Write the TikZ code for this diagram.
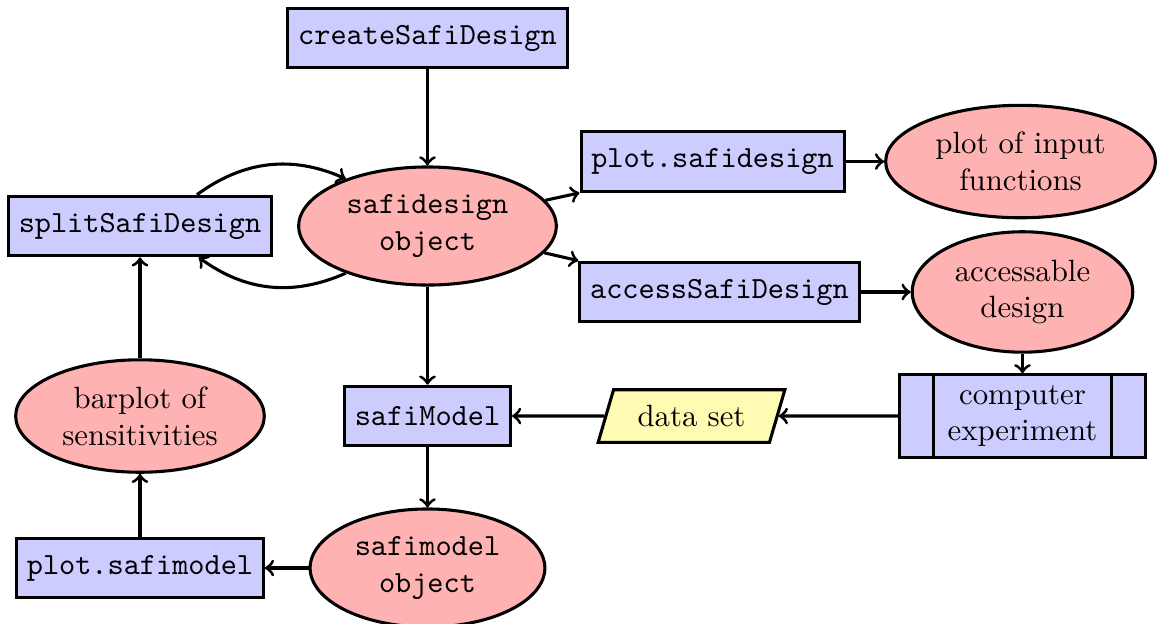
\documentclass[tikz,border=0pt]{standalone}
\usetikzlibrary{shapes.geometric}

\tikzstyle{block} = [rectangle, draw, line width=1pt, fill=blue!20, text centered, minimum height=0.68cm, font=\ttfamily]
\tikzstyle{object} = [ellipse, draw, line width=1pt, fill=red!30, align=center]
\tikzstyle{io} = [trapezium, trapezium left angle=70, trapezium right angle=110, trapezium stretches=true, draw, line width=1pt, fill=yellow!30, minimum height=0.6cm, inner xsep=7.8pt]
\tikzstyle{arrow} = [draw, line width=1pt, ->]

\begin{document}
\begin{tikzpicture}[node distance=2.169cm, auto]
    \useasboundingbox (-4.88,-4.532) rectangle (8.339,2.58);

    \node[object, font=\ttfamily] (design) {safidesign\\object};
    \node[block, above of=design, node distance=2.146cm] (create) {createSafiDesign};
    \node[block, left of=design, node distance=3.282cm] (split) {splitSafiDesign};
    \node[block, above of=design, xshift=3.254cm, node distance=0.736cm] (plotdesign) {plot.safidesign};
    \node[object, right of=plotdesign, node distance=3.516cm] (plotinput) {plot of input\\functions};
    \node[block, below of=design, xshift=3.333cm, node distance=0.753cm] (access) {accessSafiDesign};
    \node[object, right of=access, node distance=3.459cm] (accessible) {accessable\\design};
    \node[block, below of=accessible, node distance=1.416cm, font=\rmfamily, align=center, inner xsep=15.5pt] (experiment) {computer\\experiment};
    \node[block, below of=design] (model) {safiModel};
    \node[io, right of=model, node distance=3.014cm] (dataset) {data set};
    \node[object, font=\ttfamily, below of=model, node distance=1.735cm] (modelobj) {safimodel\\object};
    \node[block, left of=modelobj, node distance=3.282cm] (plotmodel) {plot.safimodel};
    \node[object, left of=model, node distance=3.282cm] (barplot) {barplot of\\sensitivities};

    % bars
    \draw[line width=1pt] ([xshift=0.4cm]experiment.north west) -- ([xshift=0.4cm]experiment.south west);
    \draw[line width=1pt] ([xshift=-0.4cm]experiment.north east) -- ([xshift=-0.4cm]experiment.south east);

    % lines
    \draw [arrow] (create) -- (design);
    \draw [arrow] (design) -- (plotdesign.south west);
    \draw [arrow] (design) -- (access.north west);
    \draw [arrow] (plotdesign) -- (plotinput);
    \draw [arrow] (access) -- (accessible);
    \draw [arrow] (accessible) -- (experiment);
    \draw [arrow] (experiment) -- (dataset);
    \draw [arrow] (dataset) -- (model);
    \draw [arrow] (design) -- (model);
    \draw [arrow] (model) -- (modelobj);
    \draw [arrow] (modelobj) -- (plotmodel);
    \draw [arrow] (plotmodel) -- (barplot);
    \draw [arrow] (barplot) -- (split);
    \draw [arrow] ([xshift=0.65cm]split.north) to[bend left] (design.150);
    \draw [arrow] (design.210) to[bend left] ([xshift=0.67cm]split.south);
\end{tikzpicture}
\end{document}
